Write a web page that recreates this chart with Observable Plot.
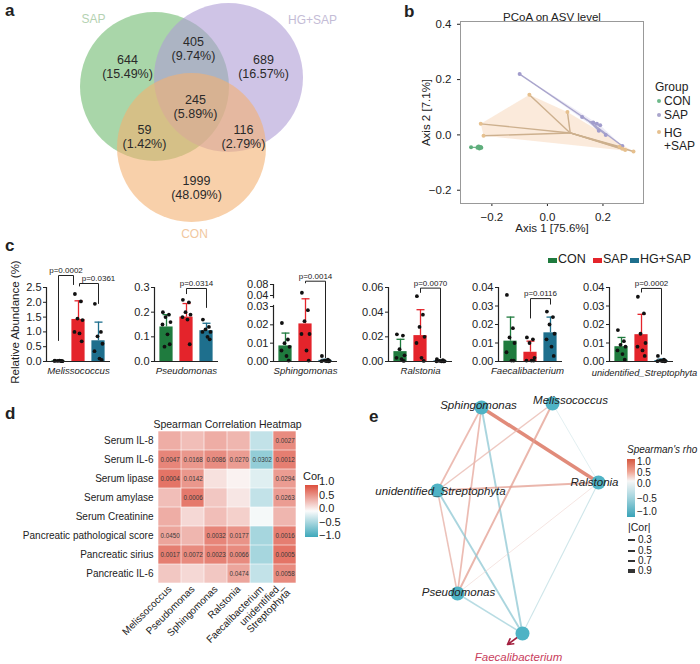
<!DOCTYPE html>
<html><head><meta charset="utf-8">
<script src="https://cdn.jsdelivr.net/npm/d3@7"></script>
<script src="https://cdn.jsdelivr.net/npm/@observablehq/plot@0.6"></script>
<style>
body{margin:0;background:#fff;}
#root{position:relative;width:700px;height:664px;overflow:hidden;font-family:"Liberation Sans",Arial,Helvetica,sans-serif;color:#222;}
#root svg{overflow:visible;}
</style></head><body><div id="root"></div>
<script>
// ---------------- DATA ----------------
// a: Venn
const vennSets = ["SAP", "HG+SAP", "CON"];
const vennRegions = ["SAP only", "SAP∩HG+SAP", "HG+SAP only", "all", "SAP∩CON", "HG+SAP∩CON", "CON only"];
const vennCounts = [644, 405, 689, 245, 59, 116, 1999];
const vennPercents = [15.49, 9.74, 16.57, 5.89, 1.42, 2.79, 48.09];

// b: PCoA
const pcoaGroup = ["CON","CON","CON","CON","CON","CON","CON","CON",
  "SAP","SAP","SAP","SAP","SAP","SAP","SAP","SAP",
  "HG+SAP","HG+SAP","HG+SAP","HG+SAP","HG+SAP","HG+SAP","HG+SAP","HG+SAP"];
const pcoaAxis1 = [-0.275,-0.252,-0.247,-0.243,-0.240,-0.245,-0.238,-0.250,
  -0.100,0.125,0.165,0.178,0.190,0.185,0.210,0.270,
  -0.240,-0.230,-0.065,0.072,0.260,0.310,0.270,0.280];
const pcoaAxis2 = [-0.045,-0.046,-0.042,-0.047,-0.044,-0.049,-0.046,-0.043,
  0.220,0.065,0.045,0.040,0.035,0.015,0.000,-0.040,
  0.040,-0.003,0.145,0.083,-0.043,-0.060,-0.050,-0.055];

// c: relative abundance
const cGroups = ["CON", "SAP", "HG+SAP"];
const genera = ["Melissococcus","Pseudomonas","Sphingomonas","Ralstonia","Faecalibacterium","unidentified_Streptophyta"];
const meanMelissococcus = [0.02, 1.42, 0.70];
const sdMelissococcus = [0.01, 0.63, 0.63];
const ptsMelissococcus = [[0.03,0.02,0.02,0.01,0.02,0.03,0.01],[2.28,2.03,1.45,1.40,1.00,0.95,0.68],[1.95,1.00,0.85,0.60,0.35,0.10,0.05]];
const pMelissococcus = ["p=0.0002","p=0.0361"];
const meanPseudomonas = [0.14, 0.18, 0.125];
const sdPseudomonas = [0.05, 0.055, 0.03];
const ptsPseudomonas = [[0.20,0.19,0.18,0.16,0.15,0.11,0.07,0.06],[0.25,0.24,0.20,0.19,0.18,0.17,0.07],[0.17,0.14,0.13,0.12,0.12,0.10,0.09]];
const pPseudomonas = ["p=0.0314"];
const meanSphingomonas = [0.0085, 0.0205, 0.0006];
const sdSphingomonas = [0.007, 0.0165, 0.0006];
const ptsSphingomonas = [[0.021,0.012,0.010,0.008,0.006,0.003,0.0005],[0.050,0.028,0.022,0.015,0.015,0.006,0.0005],[0.003,0.001,0.0005,0.0003,0.0002,0.0002,0.0001]];
const pSphingomonas = ["p=0.0014"];
const meanRalstonia = [0.008, 0.021, 0.0005];
const sdRalstonia = [0.010, 0.021, 0.0005];
const ptsRalstonia = [[0.022,0.021,0.010,0.005,0.003,0.002,0.0005],[0.053,0.038,0.028,0.020,0.015,0.003,0.0005],[0.002,0.001,0.0005,0.0003,0.0002,0.0002,0.0001]];
const pRalstonia = ["p=0.0070"];
const meanFaecalibacterium = [0.011, 0.005, 0.0155];
const sdFaecalibacterium = [0.013, 0.006, 0.0085];
const ptsFaecalibacterium = [[0.036,0.018,0.013,0.010,0.005,0.0005,0.0005],[0.013,0.012,0.010,0.002,0.0005,0.0005,0.0005],[0.027,0.024,0.020,0.015,0.012,0.008,0.003]];
const pFaecalibacterium = ["p=0.0116"];
const meanStreptophyta = [0.008, 0.0145, 0.0005];
const sdStreptophyta = [0.005, 0.011, 0.0008];
const ptsStreptophyta = [[0.017,0.011,0.009,0.008,0.006,0.004,0.001],[0.035,0.026,0.015,0.010,0.008,0.006,0.003],[0.003,0.001,0.0005,0.0003,0.0002,0.0002,0.0001]];
const pStreptophyta = ["p=0.0002"];
const yTicksC = [[0,0.5,1,1.5,2,2.5],[0,0.1,0.2,0.3],[0,0.01,0.02,0.03,0.04,0.08],[0,0.02,0.04,0.06],[0,0.01,0.02,0.03,0.04],[0,0.01,0.02,0.03,0.04]];

// d: heatmap
const heatCols = ["Melissococcus","Pseudomonas","Sphingomonas","Ralstonia","Faecalibacterium","unidentified_Streptophyta"];
const heatRows = ["Serum IL-8","Serum IL-6","Serum lipase","Serum amylase","Serum Creatinine","Pancreatic pathological score","Pancreatic sirius","Pancreatic IL-6"];
const heatCor = [
  [0.45, 0.35, 0.45, 0.40, -0.30, 0.65],
  [0.68, 0.58, 0.64, 0.55, -0.55, 0.72],
  [0.78, 0.58, 0.15, 0.05, -0.15, 0.55],
  [0.35, 0.75, 0.30, 0.12, -0.30, 0.55],
  [0.45, 0.20, 0.35, 0.25, -0.03, 0.40],
  [0.50, 0.40, 0.68, 0.60, -0.45, 0.72],
  [0.72, 0.65, 0.70, 0.65, -0.45, 0.78],
  [0.30, 0.20, 0.30, 0.50, -0.30, 0.65]];
const heatP = [
  [null,null,null,null,null,"0.0027"],
  ["0.0047","0.0168","0.0086","0.0270","0.0302","0.0012"],
  ["0.0004","0.0142",null,null,null,"0.0294"],
  [null,"0.0006",null,null,null,"0.0263"],
  [null,null,null,null,null,null],
  ["0.0450",null,"0.0032","0.0177",null,"0.0016"],
  ["0.0017","0.0072","0.0023","0.0066",null,"0.0005"],
  [null,null,null,"0.0474",null,"0.0058"]];

// e: network
const netNodes = ["Sphingomonas","Melissococcus","Ralstonia","unidentified_Streptophyta","Pseudomonas","Faecalibacterium"];
const edgeFrom = ["Sphingomonas","Sphingomonas","Sphingomonas","Sphingomonas","Melissococcus","Melissococcus","Melissococcus","unidentified_Streptophyta","unidentified_Streptophyta","unidentified_Streptophyta","Pseudomonas","Pseudomonas","Ralstonia"];
const edgeTo = ["Ralstonia","unidentified_Streptophyta","Pseudomonas","Faecalibacterium","unidentified_Streptophyta","Pseudomonas","Ralstonia","Ralstonia","Pseudomonas","Faecalibacterium","Faecalibacterium","Ralstonia","Faecalibacterium"];
const edgeRho = [0.92, 0.50, 0.50, -0.55, 0.40, 0.55, -0.20, 0.55, 0.45, -0.55, -0.45, 0.20, -0.30];

// ---------------- LAYOUT / STYLE ----------------
const FONT = '"Liberation Sans", Arial, Helvetica, sans-serif';
const root = document.getElementById("root");
function place(node, x, y) {
  const w = document.createElement("div");
  w.style.cssText = `position:absolute;left:${x}px;top:${y}px;`;
  w.appendChild(node); root.appendChild(w); return w;
}
function label(s, x, y, o = {}) {
  const d = document.createElement("div");
  d.textContent = s;
  const tx = o.align === "middle" ? "-50%" : o.align === "end" ? "-100%" : "0";
  d.style.cssText = `position:absolute;left:${x}px;top:${y}px;white-space:pre;line-height:1.05;font-size:${o.size||12}px;color:${o.color||"#222"};font-weight:${o.bold?"bold":"normal"};font-style:${o.italic?"italic":"normal"};transform:translate(${tx},-50%)${o.rotate?` rotate(${o.rotate}deg)`:""};transform-origin:50% 50%;`;
  root.appendChild(d); return d;
}
const st = (fs) => ({fontFamily: FONT, fontSize: fs + "px", background: "transparent", color: "#222", overflow: "visible"});

// ---- Panel a: Venn ----
const vennColors = {"SAP": "#70bb70", "HG+SAP": "#af9dd5", "CON": "#f3b171"};
const vennLabelColors = {"SAP": "#b5d2b2", "HG+SAP": "#c4bcd6", "CON": "#f1c89f"};
const vennCircle = {"SAP": [154, 86], "HG+SAP": [228, 77], "CON": [191, 147]};
const vennSetLabel = {"SAP": [93, 19], "HG+SAP": [312, 20], "CON": [194, 234]};
const vennRegionPos = [[127,66],[193,48],[263,66],[195,106],[144,136],[243,136],[196,187]];
const regions = vennRegions.map((r, i) => ({r, count: vennCounts[i], pct: vennPercents[i], i}));
place(Plot.plot({
  width: 340, height: 245, margin: 0, axis: null, style: st(12),
  x: {domain: [0, 340], range: [0, 340]},
  y: {domain: [0, 245], range: [0, 245]},
  marks: [
    Plot.dot(vennSets, {x: d => vennCircle[d][0], y: d => vennCircle[d][1], r: 74.5, fill: d => vennColors[d], fillOpacity: 0.6, stroke: "none"}),
    Plot.text(vennSets, {x: d => vennSetLabel[d][0], y: d => vennSetLabel[d][1], text: d => d, fill: d => vennLabelColors[d], fontSize: 12}),
    Plot.text(regions, {x: d => vennRegionPos[d.i][0], y: d => vennRegionPos[d.i][1], text: d => `${d.count}\n(${d.pct.toFixed(2)}%)`, fontSize: 12.5, lineHeight: 1.08, fill: "#2a2a2a"})
  ]
}), 0, 0);

// ---- Panel b: PCoA ----
const pcoa = pcoaGroup.map((g, i) => ({group: g, a1: pcoaAxis1[i], a2: pcoaAxis2[i]}));
const cent = new Map(d3.rollups(pcoa, v => [d3.mean(v, d => d.a1), d3.mean(v, d => d.a2)], d => d.group));
const pcoaLine = {"CON": "#6db98a", "SAP": "#a9a5cc", "HG+SAP": "#cdb08e"};
const pcoaPoint = {"CON": "#5fae7c", "SAP": "#a19ccc", "HG+SAP": "#e6c08e"};
const pcoaHull = {"CON": "#cfe8d6", "SAP": "#ddd9ee", "HG+SAP": "#f8d9bd"};
place(Plot.plot({
  width: 300, height: 240, marginLeft: 60, marginRight: 57, marginTop: 21, marginBottom: 37,
  style: st(11.5),
  x: {domain: [-0.313, 0.346], ticks: [-0.2, 0, 0.2], tickFormat: ".1f", tickSize: 3, label: "Axis 1 [75.6%]", labelAnchor: "center", labelArrow: "none", labelOffset: 28},
  y: {domain: [-0.248, 0.41], ticks: [-0.2, 0, 0.2, 0.4], tickFormat: ".1f", tickSize: 3, label: "Axis 2 [7.1%]", labelAnchor: "center", labelArrow: "none", labelOffset: 39},
  marks: [
    Plot.hull(pcoa, {x: "a1", y: "a2", z: "group", fill: d => pcoaHull[d.group], fillOpacity: 0.55, stroke: "none"}),
    Plot.link(pcoa, {x1: d => cent.get(d.group)[0], y1: d => cent.get(d.group)[1], x2: "a1", y2: "a2", stroke: d => pcoaLine[d.group], strokeWidth: 1.4}),
    Plot.dot(pcoa, {x: "a1", y: "a2", r: 2, fill: d => pcoaPoint[d.group]}),
    Plot.frame({stroke: "#999"}),
    Plot.text(["PCoA on ASV level"], {frameAnchor: "top", dy: -9, fontSize: 11.5})
  ]
}), 400, 0);
// b legend
label("Group", 655, 87, {size: 12});
[["CON", 101, "#6db98a"], ["SAP", 115, "#a9a5cc"], ["HG\n+SAP", 140, "#e6c08e"]].forEach(([t, y, c], i) => {
  const dot = document.createElement("div");
  dot.style.cssText = `position:absolute;left:657px;top:${i === 2 ? 130 : y - 2}px;width:4px;height:4px;border-radius:2px;background:${c};`;
  root.appendChild(dot);
  label(t, 664, y, {size: 12});
});

// ---- Panel c: bars ----
const cColors = ["#1f7b3e", "#e4242b", "#1e6f8d"];
const barMeans = [meanMelissococcus, meanPseudomonas, meanSphingomonas, meanRalstonia, meanFaecalibacterium, meanStreptophyta];
const barSDs = [sdMelissococcus, sdPseudomonas, sdSphingomonas, sdRalstonia, sdFaecalibacterium, sdStreptophyta];
const barPts = [ptsMelissococcus, ptsPseudomonas, ptsSphingomonas, ptsRalstonia, ptsFaecalibacterium, ptsStreptophyta];
const barP = [pMelissococcus, pPseudomonas, pSphingomonas, pRalstonia, pFaecalibacterium, pStreptophyta];
const jitter = [-0.18, 0.12, -0.05, 0.2, -0.2, 0.05, 0.16, -0.1];
const cLayout = [
  {left: 10, fmt: ".1f", ldx: 0, ldy: 12.5, lfs: 9.6, br: [{x1: 0, x2: 0.75, top: 2.905, legL: 0.71, legR: 2.6}, {x1: 1.05, x2: 2, top: 2.635, legL: 2.55, legR: 1.96, tx: 2.0}]},
  {left: 118, fmt: ".1f", ldx: 0, ldy: 12.5, lfs: 9.6, br: [{x1: 1, x2: 2, top: 0.296, legL: 0.275, legR: 0.219}]},
  {left: 237, fmt: ".2f", ldx: 0, ldy: 12.5, lfs: 9.6, piece: {domain: [0, 0.03, 0.04, 0.08], range: [101, 46, 35, 24]}, axisSeg: [[0, 0.031], [0.037, 0.08]], br: [{x1: 1, x2: 2, top: 0.092, legL: 0.086, legR: 0.002}]},
  {left: 352, fmt: ".2f", ldx: 0, ldy: 12.5, lfs: 9.6, br: [{x1: 1, x2: 2, top: 0.0595, legL: 0.056, legR: 0.003}]},
  {left: 462, fmt: ".2f", ldx: -3, ldy: 12.5, lfs: 9.6, br: [{x1: 1, x2: 2, top: 0.034, legL: 0.0235, legR: 0.031}]},
  {left: 573, fmt: ".2f", ldx: 3, ldy: 14, lfs: 9.3, br: [{x1: 1, x2: 2, top: 0.0395, legL: 0.0375, legR: 0.004}]}
];
genera.forEach((name, k) => {
  const L = cLayout[k];
  const ticks = yTicksC[k];
  const yMax = ticks[ticks.length - 1];
  const bars = cGroups.map((g, i) => ({g, i, mean: barMeans[k][i], sd: barSDs[k][i]}));
  const dots = barPts[k].flatMap((arr, i) => arr.map((v, j) => ({i, j, v})));
  const br = L.br.map((b, m) => ({...b, m, p: barP[k][m]}));
  const brLines = br.flatMap(b => [{m: b.m, x: b.x1, y: b.legL}, {m: b.m, x: b.x1, y: b.top}, {m: b.m, x: b.x2, y: b.top}, {m: b.m, x: b.x2, y: b.legR}]);
  const segs = (L.axisSeg || [[0, yMax]]).map(s => ({y1: s[0], y2: s[1]}));
  const yOpt = L.piece ? {type: "linear", domain: L.piece.domain, range: L.piece.range} : {domain: [0, yMax]};
  place(Plot.plot({
    width: 106, height: 120, marginLeft: 36, marginRight: 6, marginTop: 27, marginBottom: 19,
    style: st(11),
    x: {domain: [-0.6, 2.6], axis: null},
    y: {...yOpt, ticks, tickFormat: L.fmt, tickSize: 3, tickPadding: 2, label: null},
    marks: [
      Plot.rectY(bars, {x1: d => d.i - 0.33, x2: d => d.i + 0.33, y1: 0, y2: "mean", fill: d => cColors[d.i]}),
      Plot.ruleX(bars, {x: "i", y1: "mean", y2: d => d.mean + d.sd, stroke: d => cColors[d.i], strokeWidth: 1.3}),
      Plot.link(bars, {x1: d => d.i - 0.2, x2: d => d.i + 0.2, y1: d => d.mean + d.sd, y2: d => d.mean + d.sd, stroke: d => cColors[d.i], strokeWidth: 1.3}),
      Plot.dot(dots, {x: d => d.i + jitter[d.j % jitter.length], y: "v", r: 1.9, fill: "#111"}),
      Plot.ruleY([0], {stroke: "#222", strokeWidth: 1.2}),
      Plot.ruleX(segs, {x: -0.6, y1: "y1", y2: "y2", stroke: "#222", strokeWidth: 1.2}),
      Plot.line(brLines, {x: "x", y: "y", z: "m", stroke: "#222", strokeWidth: 1}),
      Plot.text(br, {x: d => d.tx ?? (d.x1 + d.x2) / 2, y: "top", text: "p", dy: -5, fontSize: 8}),
      Plot.text([name], {frameAnchor: "bottom", dy: L.ldy, dx: L.ldx, fontStyle: "italic", fontSize: L.lfs})
    ]
  }), L.left, 260);
});
label("Relative Abundance (%)", 15, 322, {size: 11.5, align: "middle", rotate: -90});
// c legend
[["CON", 548, cColors[0]], ["SAP", 593, cColors[1]], ["HG+SAP", 630, cColors[2]]].forEach(([t, x, c]) => {
  const sw = document.createElement("div");
  sw.style.cssText = `position:absolute;left:${x}px;top:258px;width:9px;height:5px;background:${c};`;
  root.appendChild(sw);
  label(t, x + 10, 260, {size: 12.5});
});

// ---- Panel d: heatmap ----
const cells = heatRows.flatMap((r, i) => heatCols.map((c, j) => ({row: r, col: c, cor: heatCor[i][j], p: heatP[i][j]})));
place(Plot.plot({
  width: 345, height: 264, marginLeft: 157, marginRight: 48, marginTop: 29, marginBottom: 80,
  style: st(10),
  x: {domain: heatCols, padding: 0, tickSize: 0, tickPadding: 3, tickRotate: -45, label: null, tickFormat: d => d === "unidentified_Streptophyta" ? "unidentified_\nStreptophyta" : d},
  y: {domain: heatRows, padding: 0, tickSize: 0, tickPadding: 4, label: null},
  color: {type: "linear", domain: [-1, 0, 1], range: ["#3ea8ba", "#fbfbfb", "#dd4e3c"]},
  marks: [
    Plot.cell(cells, {x: "col", y: "row", fill: "cor", inset: 0.3}),
    Plot.text(cells.filter(d => d.p), {x: "col", y: "row", text: "p", fontSize: 6.3, fill: "#3a3a3a"}),
    Plot.text(["Spearman Correlation Heatmap"], {frameAnchor: "top", dy: -9, fontSize: 10.5})
  ]
}), 0, 400);
label("Cor", 303, 477, {size: 11});
{
  const g = document.createElement("div");
  g.style.cssText = "position:absolute;left:305px;top:485px;width:13px;height:52px;background:linear-gradient(#dd4e3c,#fbfbfb 50%,#3ea8ba);";
  root.appendChild(g);
  [["1.0", 482], ["0.5", 496], ["0.0", 509], ["\u22120.5", 523], ["\u22121.0", 536]].forEach(([t, y]) => label(t, 319, y, {size: 11}));
}

// ---- Panel e: network ----
const nodePos = {"Sphingomonas": [121, 12], "Melissococcus": [192, 8], "Ralstonia": [238, 87], "unidentified_Streptophyta": [77, 95], "Pseudomonas": [97, 198], "Faecalibacterium": [162, 238]};
const nodeLabelPos = {"Sphingomonas": [118, 10], "Melissococcus": [210, 5], "Ralstonia": [234, 87], "unidentified_Streptophyta": [80, 96], "Pseudomonas": [98, 197], "Faecalibacterium": [158, 262]};
const edges = edgeFrom.map((f, i) => ({f, t: edgeTo[i], rho: edgeRho[i]}));
const ew = r => 0.5 + 3.5 * Math.pow(Math.abs(r), 1.5);
place(Plot.plot({
  width: 340, height: 269, margin: 0, axis: null, style: st(11.5),
  x: {domain: [0, 340], range: [0, 340]},
  y: {domain: [0, 269], range: [0, 269]},
  color: {type: "linear", domain: [-1, 0, 1], range: ["#3aa3b8", "#f4f4f4", "#d5573f"]},
  marks: [
    Plot.link(edges, {x1: d => nodePos[d.f][0], y1: d => nodePos[d.f][1], x2: d => nodePos[d.t][0], y2: d => nodePos[d.t][1], stroke: "rho", strokeWidth: d => ew(d.rho), strokeOpacity: 0.75}),
    Plot.arrow(["Faecalibacterium"], {x1: d => nodePos[d][0], y1: d => nodePos[d][1], x2: d => nodePos[d][0] - 15, y2: d => nodePos[d][1] + 11, stroke: "#a3203f", strokeWidth: 1.6, headLength: 6}),
    Plot.dot(netNodes, {x: d => nodePos[d][0], y: d => nodePos[d][1], r: 7, fill: "#4fb3c5"}),
    Plot.text(netNodes, {x: d => nodeLabelPos[d][0], y: d => nodeLabelPos[d][1], text: d => d, fontStyle: "italic", fontSize: 11.5, fill: d => d === "Faecalibacterium" ? "#c9405d" : "#222"})
  ]
}), 360, 395);
label("Spearman's rho", 627, 450, {size: 10, italic: true});
{
  const g = document.createElement("div");
  g.style.cssText = "position:absolute;left:627px;top:459px;width:8px;height:58px;background:linear-gradient(#d5573f,#f0a594 22%,#f6f6f6 38%,#a8d6df 65%,#3aa3b8);";
  root.appendChild(g);
  [["1.0", 462], ["0.5", 473], ["0.0", 484], ["\u22120.5", 499], ["\u22121.0", 512]].forEach(([t, y]) => label(t, 637, y, {size: 10}));
  label("|Cor|", 628, 528, {size: 10.5});
  [["0.3", 540, 0.3], ["0.5", 551, 0.5], ["0.7", 561, 0.7], ["0.9", 571, 0.9]].forEach(([t, y, v]) => {
    const ln = document.createElement("div");
    const h = ew(v);
    ln.style.cssText = `position:absolute;left:628px;top:${y - h / 2}px;width:7px;height:${h}px;background:#333;`;
    root.appendChild(ln);
    label(t, 638, y, {size: 10});
  });
}

// panel letters
[["a", 5, 11], ["b", 404, 12], ["c", 5, 246], ["d", 5, 414], ["e", 369, 417]].forEach(([t, x, y]) => label(t, x, y, {size: 17, bold: true}));
</script></body></html>
